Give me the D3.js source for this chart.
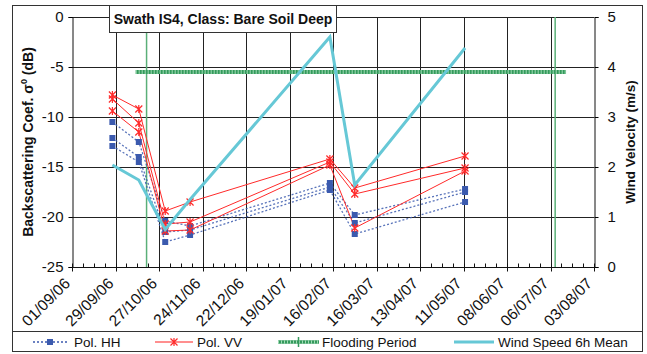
<!DOCTYPE html>
<html><head><meta charset="utf-8">
<script src="https://cdn.jsdelivr.net/npm/d3@7"></script>
<style>
html,body{margin:0;padding:0;background:#fff;}
svg{display:block;font-family:"Liberation Sans",Arial,sans-serif;}
</style></head>
<body><svg id="c" width="647" height="354"></svg>
<script>
// ---- data ----
const acqDates = ["2006-09-27","2006-10-14","2006-10-31","2006-11-16","2007-02-14","2007-03-02","2007-05-12"];
const hh1 = [-10.5,-12.5,-20.4,-20.9,-16.6,-19.8,-17.2];
const hh2 = [-12.1,-14.0,-21.5,-21.3,-17.0,-20.6,-17.5];
const hh3 = [-12.9,-14.5,-22.5,-21.8,-17.3,-21.7,-18.5];
const vv1 = [-7.8,-9.2,-19.4,-18.5,-14.2,-17.1,-13.9];
const vv2 = [-8.2,-10.6,-20.7,-20.5,-14.5,-17.7,-15.1];
const vv3 = [-9.4,-11.5,-21.4,-21.3,-14.8,-21.1,-15.4];
const windDates = ["2006-09-27","2006-10-14","2006-10-31","2006-11-16","2007-02-14","2007-03-02","2007-05-12"];
const windSpeed = [2.04,1.74,0.75,1.35,4.6,1.64,4.38];
const floodDates = ["2006-10-12","2007-07-16"];
const floodLevel = -5.5;
const floodMarks = ["2006-10-19","2007-07-09"];
const axisStart = "2006-09-01", axisEnd = "2007-08-03";
const yTicks = [0,-5,-10,-15,-20,-25];
const y2Ticks = [0,1,2,3,4,5];
const titleText = "Swath IS4, Class: Bare Soil Deep";
const legendLabels = ["Pol. HH","Pol. VV","Flooding Period","Wind Speed 6h Mean"];

// ---- setup ----
const parse = d3.utcParse("%Y-%m-%d");
const fmt = d3.utcFormat("%d/%m/%y");
const svg = d3.select("#c");
const L=72, R=594, T=17, B=267;
const x = d3.scaleUtc().domain([parse(axisStart), parse(axisEnd)]).range([L,R]);
const y = d3.scaleLinear().domain([-25,0]).range([B,T]);
const y2 = d3.scaleLinear().domain([0,5]).range([B,T]);
const allDays = d3.utcDay.range(parse(axisStart), d3.utcDay.offset(parse(axisEnd),1), 1);
const majorTicks = allDays.filter((d,i)=>i%28===0);
const minorTicks = allDays.filter((d,i)=>i%7===0 && i%28!==0);

// outer frames
svg.append("rect").attr("x",12.5).attr("y",5.5).attr("width",630).attr("height",326).attr("fill","none").attr("stroke","#333");
svg.append("rect").attr("x",12.5).attr("y",331.5).attr("width",630).attr("height",20).attr("fill","none").attr("stroke","#333");

// gridlines
const g = svg.append("g");
g.selectAll(".hg").data(yTicks).enter().append("line")
  .attr("x1",L).attr("x2",R).attr("y1",d=>Math.round(y(d))+0.5).attr("y2",d=>Math.round(y(d))+0.5)
  .attr("stroke","#222").attr("stroke-width",1);
g.selectAll(".vg").data(majorTicks.slice(1,-1)).enter().append("line")
  .attr("y1",T).attr("y2",B).attr("x1",d=>Math.round(x(d))+0.5).attr("x2",d=>Math.round(x(d))+0.5)
  .attr("stroke","#222").attr("stroke-width",1);

// left axis
const ya = svg.append("g").attr("transform",`translate(${L+0.5},0)`)
  .call(d3.axisLeft(y).tickValues(yTicks).tickSize(4).tickPadding(5).tickFormat(d=>String(d)));
ya.selectAll("text").attr("font-size",15).attr("fill","#111");
ya.select(".domain").attr("stroke","#111");
// right axis
const y2a = svg.append("g").attr("transform",`translate(${R+0.5},0)`)
  .call(d3.axisRight(y2).tickValues(y2Ticks).tickSize(4).tickPadding(9).tickFormat(d=>String(d)));
y2a.selectAll("text").attr("font-size",15).attr("fill","#111");
y2a.select(".domain").attr("stroke","#111");
// bottom axis
const xa = svg.append("g").attr("transform",`translate(0,${B+0.5})`);
xa.append("line").attr("x1",L).attr("x2",R).attr("stroke","#111");
xa.selectAll(".mj").data(majorTicks).enter().append("line")
  .attr("x1",d=>Math.round(x(d))+0.5).attr("x2",d=>Math.round(x(d))+0.5).attr("y1",-4).attr("y2",4).attr("stroke","#111");
xa.selectAll(".mn").data(minorTicks).enter().append("line")
  .attr("x1",d=>Math.round(x(d))+0.5).attr("x2",d=>Math.round(x(d))+0.5).attr("y1",-4).attr("y2",0).attr("stroke","#111");
xa.selectAll(".lb").data(majorTicks).enter().append("text")
  .attr("transform",d=>`translate(${x(d)-1},${17}) rotate(-45)`)
  .attr("text-anchor","end").attr("font-size",15.5).attr("fill","#111").text(d=>fmt(d));

// axis titles
svg.append("text").attr("transform",`translate(33,142) rotate(-90)`).attr("text-anchor","middle")
  .attr("font-size",14).attr("font-weight","bold").attr("fill","#111")
  .html('Backscattering Coef. σ<tspan dy="-6" font-size="9">0</tspan><tspan dy="6"> (dB)</tspan>');
svg.append("text").attr("transform",`translate(635,142) rotate(-90)`).attr("text-anchor","middle")
  .attr("font-size",13.5).attr("font-weight","bold").attr("fill","#111").text("Wind Velocity (m/s)");

// flooding period
const fl = svg.append("g");
floodMarks.forEach(d=>{
  fl.append("line").attr("x1",x(parse(d))).attr("x2",x(parse(d))).attr("y1",T).attr("y2",B)
    .attr("stroke","#5aaf78").attr("stroke-width",1.5);
});
fl.append("line").attr("x1",x(parse(floodDates[0]))).attr("x2",x(parse(floodDates[1])))
  .attr("y1",y(floodLevel)).attr("y2",y(floodLevel)).attr("stroke","#349a5c").attr("stroke-width",4);
fl.append("line").attr("x1",x(parse(floodDates[0]))).attr("x2",x(parse(floodDates[1])))
  .attr("y1",y(floodLevel)).attr("y2",y(floodLevel)).attr("stroke","#9fdab4").attr("stroke-width",4).attr("stroke-dasharray","1,2");

// series
const dts = acqDates.map(parse);
const line = d3.line().x(d=>x(d[0])).y(d=>y(d[1]));
const hhColor="#3b5aae", vvColor="#ff2a2a";
[hh1,hh2,hh3].forEach(s=>{
  svg.append("path").attr("d",line(s.map((v,i)=>[dts[i],v]))).attr("fill","none")
    .attr("stroke",hhColor).attr("stroke-width",1.3).attr("stroke-dasharray","2,2").attr("opacity",0.85);
});
[vv1,vv2,vv3].forEach(s=>{
  svg.append("path").attr("d",line(s.map((v,i)=>[dts[i],v]))).attr("fill","none")
    .attr("stroke",vvColor).attr("stroke-width",1);
});
const star = "M-3.5,-3.5L3.5,3.5M-3.5,3.5L3.5,-3.5M0,-4V4";
[hh1,hh2,hh3].forEach(s=>{
  svg.append("g").selectAll("rect").data(s.map((v,i)=>[dts[i],v])).enter().append("rect")
    .attr("x",d=>x(d[0])-3).attr("y",d=>y(d[1])-3).attr("width",6).attr("height",6).attr("fill",hhColor);
});
[vv1,vv2,vv3].forEach(s=>{
  svg.append("g").selectAll("path").data(s.map((v,i)=>[dts[i],v])).enter().append("path")
    .attr("d",star).attr("transform",d=>`translate(${x(d[0])},${y(d[1])})`)
    .attr("stroke",vvColor).attr("stroke-width",1.2).attr("fill","none");
});
// wind
const wline = d3.line().x(d=>x(d[0])).y(d=>y2(d[1]));
svg.append("path").attr("d",wline(windDates.map((d,i)=>[parse(d),windSpeed[i]]))).attr("fill","none")
  .attr("stroke","#66c8d6").attr("stroke-width",3).attr("stroke-linejoin","miter");

// title box
svg.append("rect").attr("x",109.5).attr("y",5.5).attr("width",227).attr("height",27).attr("fill","#fff").attr("stroke","#333");
svg.append("text").attr("x",223).attr("y",24).attr("text-anchor","middle").attr("font-size",14).attr("font-weight","bold")
  .attr("fill","#111").text(titleText);

// legend
const lg = svg.append("g").attr("transform","translate(0,342)");
lg.append("line").attr("x1",33).attr("x2",69).attr("stroke",hhColor).attr("stroke-width",1.3).attr("stroke-dasharray","2,2");
lg.append("rect").attr("x",47).attr("y",-3).attr("width",6).attr("height",6).attr("fill",hhColor);
lg.append("line").attr("x1",155).attr("x2",193).attr("stroke","#ff6a6a").attr("stroke-width",1.5);
lg.append("path").attr("d",star).attr("transform","translate(174,0)").attr("stroke",vvColor).attr("stroke-width",1.2).attr("fill","none");
lg.append("line").attr("x1",278).attr("x2",319).attr("stroke","#349a5c").attr("stroke-width",3.5);
lg.append("line").attr("x1",278).attr("x2",319).attr("stroke","#9fdab4").attr("stroke-width",3.5).attr("stroke-dasharray","1,2");
lg.append("line").attr("x1",298.5).attr("x2",298.5).attr("y1",-5).attr("y2",5).attr("stroke","#349a5c").attr("stroke-width",1.5);
lg.append("line").attr("x1",454).attr("x2",494).attr("stroke","#66c8d6").attr("stroke-width",3);
const lx=[74,197,322,498];
legendLabels.forEach((t,i)=>{
  lg.append("text").attr("x",lx[i]).attr("y",5).attr("font-size",13.5).attr("fill","#111").text(t);
});
</script></body></html>
